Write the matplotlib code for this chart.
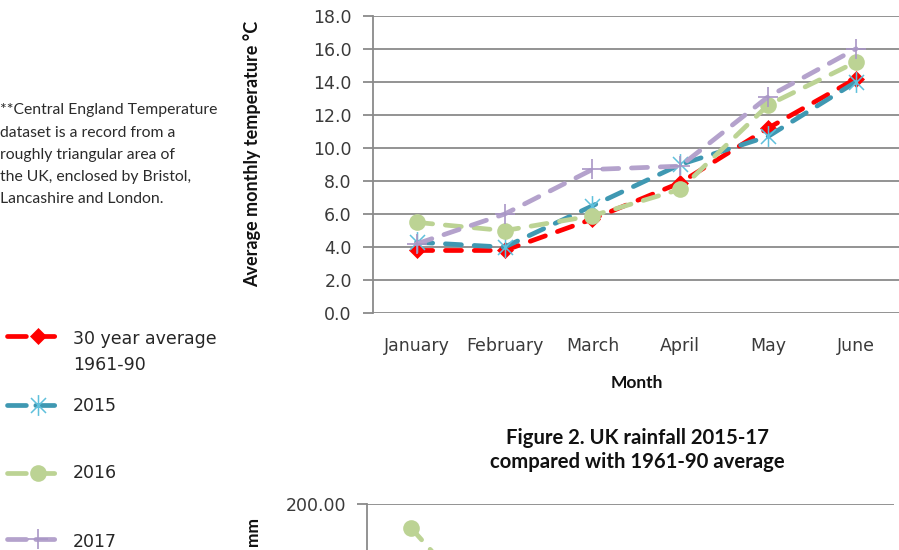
import matplotlib
matplotlib.use("Agg")
import matplotlib.pyplot as plt
from matplotlib.path import Path
import numpy as np

# ---------------- data ----------------
months = ["January", "February", "March", "April", "May", "June"]
temp_avg_1961_90 = [3.8, 3.8, 5.7, 7.9, 11.2, 14.2]
temp_2015 = [4.3, 4.0, 6.5, 9.0, 10.7, 14.0]
temp_2016 = [5.5, 5.0, 5.9, 7.5, 12.6, 15.2]
temp_2017 = [4.2, 6.0, 8.7, 8.9, 13.1, 16.0]
temp_ticks = [0, 2, 4, 6, 8, 10, 12, 14, 16, 18]

rain_avg_1961_90 = [121.7, 88.2, 98.2, 77.0, 76.8, 77.8]
rain_2015 = [140.0, 75.0, 90.0, 55.0, 110.0, 50.0]
rain_2016 = [184.0, 118.0, 96.0, 89.0, 66.0, 98.0]
rain_2017 = [80.0, 105.0, 95.0, 30.0, 80.0, 105.0]
rain_ticks_visible = [200]

series_labels = ["30 year average\n1961-90", "2015", "2016", "2017"]
note_lines = ["**Central England Temperature",
              "dataset is a record from a",
              "roughly triangular area of",
              "the UK, enclosed by Bristol,",
              "Lancashire and London."]
fig2_title = "Figure 2. UK rainfall 2015-17\ncompared with 1961-90 average"

# ---------------- styles ----------------
W, H = 899, 550
GRID = "#8a8a8a"
TXT = "#3a3a3a"
BODY = ["Lato", "DejaVu Sans"]

star = Path([(0, -1), (0, 1), (-0.72, -0.72), (0.72, 0.72), (-0.72, 0.72), (0.72, -0.72)],
            [Path.MOVETO, Path.LINETO, Path.MOVETO, Path.LINETO, Path.MOVETO, Path.LINETO])

styles = [
    dict(color="#ff0000", marker="D", ms=8, mfc="#ff0000", mec="#ff0000", mew=0.5),
    dict(color="#3f98b2", marker=star, ms=15, mfc="none", mec="#5fc0dc", mew=1.1),
    dict(color="#bcd394", marker="o", ms=12, mfc="#bcd394", mec="#bcd394", mew=0),
    dict(color="#b4a2cc", marker="+", ms=15, mfc="none", mec="#a996c6", mew=1.2),
]
LW = 3.4
DASH = (3.4, 2.7)

fig = plt.figure(figsize=(W / 100, H / 100), dpi=100)


def px_axes(left, top, right, bottom):
    return fig.add_axes([left / W, 1 - bottom / H, (right - left) / W, (bottom - top) / H])


def style_axes(ax, ticks, fmt):
    ax.set_xlim(-0.5, 5.5)
    ax.set_yticks(ticks)
    ax.set_yticklabels([fmt % t for t in ticks])
    ax.set_axisbelow(True)
    ax.yaxis.grid(True, color=GRID, lw=1.3)
    for s in ["top", "right", "bottom"]:
        ax.spines[s].set_visible(False)
    ax.spines["left"].set_color(GRID)
    ax.spines["left"].set_linewidth(1.3)
    ax.tick_params(axis="y", length=7, width=1.3, color=GRID, pad=8,
                   labelsize=12.5, labelcolor=TXT)
    ax.tick_params(axis="x", length=0, pad=17, labelsize=12.5, labelcolor=TXT)
    ax.patch.set_alpha(0)


def draw_series(ax, x, data_list):
    for ys, st in zip(data_list, styles):
        ax.plot(x, ys, lw=LW, color=st["color"], dashes=DASH,
                dash_capstyle="round", solid_capstyle="round",
                marker=st["marker"], ms=st["ms"], mfc=st["mfc"],
                mec=st["mec"], mew=st["mew"], clip_on=False)


x = np.arange(len(months))

# ---------------- Figure 1: temperature ----------------
ax1 = px_axes(372.7, 15.7, 900, 313.3)
style_axes(ax1, temp_ticks, "%.1f")
ax1.set_ylim(0, 18)
ax1.set_xticks(x)
ax1.set_xticklabels(months)
draw_series(ax1, x, [temp_avg_1961_90, temp_2015, temp_2016, temp_2017])

# ---------------- Figure 2: rainfall (top part only visible) ----------------
ax2 = px_axes(367, 504, 894, 802)
style_axes(ax2, rain_ticks_visible, "%.2f")
ax2.set_ylim(0, 200)
ax2.set_xticks(x)
ax2.set_xticklabels([])
draw_series(ax2, x, [rain_avg_1961_90, rain_2015, rain_2016, rain_2017])

# ---------------- overlay for text + legend ----------------
ov = fig.add_axes([0, 0, 1, 1], zorder=-1)
ov.set_xlim(0, W)
ov.set_ylim(H, 0)
ov.axis("off")

ov.text(252, 153.5, "Average monthly temperature \u00b0C", rotation=90,
        ha="center", va="center", fontsize=13.0, fontweight="bold",
        family=BODY, color="#111111")
ov.text(637, 383, "Month", ha="center", va="center", fontsize=12.5,
        fontweight="bold", family=BODY, color="#111111")
ov.text(637, 450, fig2_title, ha="center", va="center", fontsize=14.6,
        fontweight="bold", family=BODY, color="#111111", linespacing=1.3)
ov.text(253, 517, "mm", rotation=90, ha="center", va="top", fontsize=12.5,
        fontweight="bold", family=BODY, color="#111111")

for i, line in enumerate(note_lines):
    ov.text(0, 114.3 + 22.25 * i, line, ha="left", va="baseline",
            fontsize=11.3, family=BODY, color="#2b2b2b")

# legend
leg_y = [336, 405, 472.7, 539.3]
leg_base = [[343.5, 370], [411], [478.3], [546.7]]
for st, yy, lab, bases in zip(styles, leg_y, series_labels, leg_base):
    ov.plot([7, 62], [yy, yy], lw=LW, color=st["color"], dashes=(4.0, 2.0),
            dash_capstyle="round")
    ov.plot([38], [yy], ls="none", marker=st["marker"], ms=st["ms"],
            mfc=st["mfc"], mec=st["mec"], mew=st["mew"])
    for ln, b in zip(lab.split("\n"), bases):
        ov.text(73, b, ln, ha="left", va="baseline", fontsize=12.5, color="#262626")

fig.savefig("out.png", dpi=100)
